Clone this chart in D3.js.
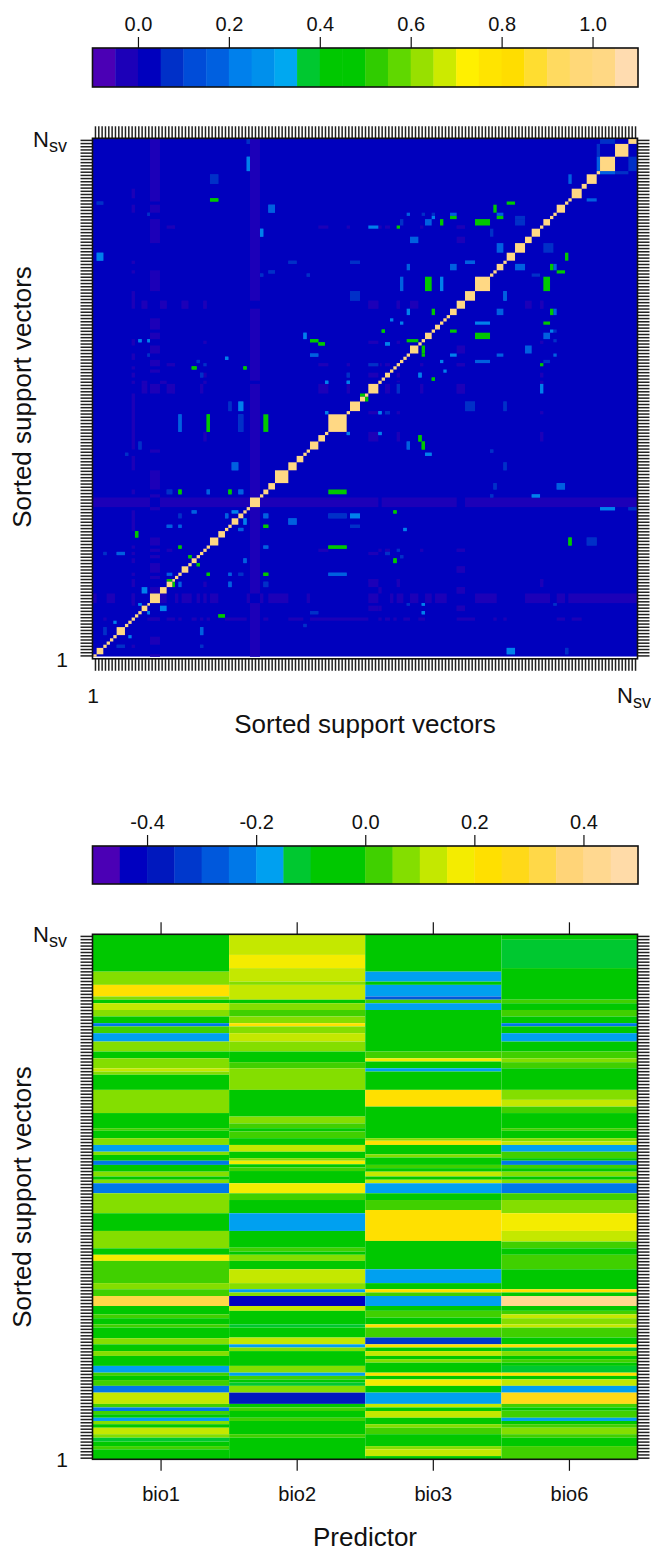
<!DOCTYPE html>
<html><head><meta charset="utf-8">
<style>html,body{margin:0;padding:0;background:#fff}svg{display:block}text{font-family:"Liberation Sans",Arial,sans-serif;fill:#111}</style>
<script src="https://cdn.jsdelivr.net/npm/d3@7/dist/d3.min.js"></script>
</head><body><script>
// ---------- data ----------
const nSV = 163;
const predictors = ["bio1","bio2","bio3","bio6"];
const simTicks = [0,0.2,0.4,0.6,0.8,1.0];
const coefTicks = [-0.4,-0.2,0,0.2,0.4];
const simColors = ["#4B00B5","#1C00B8","#0000BE","#0030C8","#004CD8","#0060E0","#0080EC","#0090EC","#00A8F0","#00C830","#00C800","#00C800","#30CC00","#60D800","#98E000","#CCEA00","#FFF000","#FFE400","#FFDD00","#FFDD30","#FFDA60","#FFD878","#FFD884","#FFDCB0"];
const coefColors = ["#4B00B5","#0000C0","#0018BE","#0038CC","#0058DC","#0078E8","#00A0F0","#00C830","#00C800","#00C800","#40D000","#84DE00","#C4E800","#F4EC00","#FFE000","#FFD918","#FFD848","#FFD478","#FFD890","#FFDBA8"];
// tied groups of support vectors along the sorted order (upper edges of each group)
const groupEdges = [0,1,3,4,5,6,7,9.5,10.5,11.5,12.5,13.5,14.5,16.2,17,20,22,23.7,24.5,25.5,26.5,28.5,29.5,31,32,33,34,35,37.5,39.5,40.5,41.5,43.5,45,46,47,50,51,52.5,54.5,58.5,61,63,64,65,67.5,69.5,70.5,76,77,80,81.5,82.5,85.5,86.5,87.5,89,90,91,92,93,94,95,97.5,98.5,99.5,101.5,102.5,104,105,106,107,109,111.5,114.5,119,120,121,123,124,126.5,129.5,131.5,134,135,137,138,139,141.5,142.5,143.5,146.5,148,151,152,156.5,160.5,163];
const baseSim = 0.02, selfSim = 1.02, lowSim = -0.03;
// [position a, position b, similarity]  (the matrix is symmetric)
const pairSims = [
[46.5,161.1,.07],[46.5,154,.17],[36,149,.07],[36,142.8,.42],[2,141.7,.07],[53.5,140.2,.17],[16.5,138.6,.07],[50.5,132.5,.17],[2,125,.17],[59.8,123.5,.07],[78.5,123.5,.07],[53.5,120.4,.07],[50.5,119.3,.07],[64.5,119.3,.07],[78.5,112.7,.07],[63.5,100.6,.17],[66.3,99,.42],[68.5,98,.42],[14,99,.22],[16.5,99,.22],[16.5,94.9,.07],[66.3,94.9,.17],[40,93.5,.22],[31.5,92,.07],[33.5,91.2,.07],[30.3,90.1,.42],[45.5,90.1,.42],[32.5,88,.07],[76.5,88,.07],[70,86,.22],[76.5,86,.22],[80.8,81.9,.42],
[41,79,.07],[44.5,79,.17],[44.5,73.4,.12],[26,73.4,.17],[34.5,73.4,.42],[52,73.4,.42],[70,76.5,.17],[76.5,69.8,.22],[14,66.2,.07],[10,63.8,.07],[42.5,60,.17],
[22.8,51.7,.07],[26,51.7,.42],[34.5,51.7,.17],[41,51.7,.42],[44.5,51.7,.17],[30.3,45.5,.17],[26,44.4,.07],[40,44.4,.22],[42.5,45.5,.17],[22.8,41.3,.17],[26,41.3,.17],[13,38.7,.42],[26,34.8,.42],[8.3,32.4,.17],[3.5,32.4,.07],[29,31.4,.42],[31.5,29,.42],[22.8,26.2,.17],[22.8,24,.42],[15.3,21,.22],[14,16.6,.22],[16.5,14,.22],[6.5,11,.22],[32.5,8.5,.17],[3.5,8.5,.07],[8,3.8,.07],[32.5,3.8,.07],[38.5,13,.42],[66.3,14,.07],[63.5,10,.07],[45.5,30.4,.17],[44.5,26.2,.07],[41,26.2,.17],[34.5,26.2,.42],[52,26.2,.42],[73,26.2,.17],[41,23,.17],[52,23,.07],[52,44.4,.17],[52,41.3,.42],[59.8,42.5,.2],[73,44.4,.07],[78.5,44.4,.22],[78.5,41.3,.07],[45.5,42.5,.22],[44.5,40,.17],[52,34.8,.17],[73,34.8,.42],
[143,149.5,.17],[154.3,161.5,.07],[151.5,158.4,.07],[151.5,154,.17],[125.3,141.7,.42],[120.5,140.2,.42],[94.5,138.6,.17],[99,138.6,.07],[102,138.6,.07],[108,138.6,.17],[122,138.6,.17],[102,137.5,.22],[108,137.5,.42],[122,137.5,.42],[128,137.5,.07],[92.5,136,.07],[100.5,136,.17],[104.5,136,.42],[116.8,136,.42],[84,134.5,.22],[91.5,134.5,.42],[119.5,132.5,.07],[96,130.3,.17],[122,127.7,.17],[127.7,136,.07],[113,123.5,.22],[94.5,122,.17],[108,122,.17],[92.5,116.8,.17],[100.5,116.8,.42],[104.5,116.8,.22],[123.5,112.7,.17],[94.5,107.9,.22],[102,107.9,.42],[89.5,105.3,.22],[92.5,104.5,.22],[87,102.4,.42],[94.5,99,.42],[88.2,98,.22],[99,95,.42],[98,88,.22],[102,87,.42],[91.5,84,.07],[113,79,.07],[123.5,79,.07],[86,76.6,.22],[88.3,76.6,.07],[86,69.8,.22],[94.5,66.2,.17],[98,68.3,.42],[99,66.2,.42],[100.5,63.7,.22],[119.5,64.6,.07],[123.5,60,.07],[120.5,53.2,.07],[140.3,53.2,.17],[119.5,50.7,.07],[132.8,50.7,.22],[154.3,46.5,.22],[161.8,46.5,.07],[90.5,45.5,.42],[93.5,40.3,.22],[143,36.6,.42],[149.5,36.6,.07],[88.3,32.4,.07],[92.5,31.4,.07],[90.5,30.4,.42],[94.5,16.8,.07],[99,16.8,.22],[99,14.2,.22],[138,16.8,.07],[125.3,2.2,.22],[142,2.2,.07]
];
// [row position, [from,to] runs of slightly negative similarity]
const lowRuns = [
[48.5,[[0,17],[20,47],[50,85.5],[86.5,109],[111.5,163]]],
[18.5,[[0,1],[4,6.5],[11.5,12.5],[20,22],[24.5,25.5],[26.5,29.5],[31,32],[33,34],[35,37.5],[46,47],[50,51],[52.5,58.5],[64,65],[82.5,85.5],[89,90],[91,93],[95,97.5],[99.5,101.5],[102.5,106],[114.5,121],[129.5,137],[139,141.5],[142.5,163]]],
[12,[[3,4],[16.2,20],[22,24.5],[25.5,26.5],[29.5,31],[32,33],[34,35],[39.5,46],[51,52.5],[58.5,63],[65,82.5],[85.5,86.5],[87.5,89],[90,91],[93,95],[97.5,99.5],[109,114.5],[120,121],[123,124],[139,141.5],[143.5,146.5]]],
[134.5,[[22,24.5],[67.5,70.5],[76,77],[85.5,86.5],[87.5,89],[98,99],[109,111.5]]],
[110,[[14.5,16.2],[20,22],[26.5,28.5],[33,34],[82.5,85.5],[91,92],[95,97.5],[129.5,131.5],[134,135]]],
[91.2,[[22,24.5],[67.5,70.5],[76,77],[82.5,85.5],[86,86.5],[87.5,89],[98,99],[109,111.5]]],
[84,[[14.5,16.2],[22,24.5],[32,33],[67.5,70.5],[76,77],[87.5,89],[98,99],[109,111.5]]],
[33.5,[[22,23.7],[67.5,70.5],[85.5,86.5],[87.5,89],[98,99],[109,111.5]]],
[23.7,[[82.5,85.5],[91,92],[134,135]]],
[21.6,[[85.5,86.5],[109,111.5]]],
[15.6,[[85.5,86.5],[109,111.5]]],
[27.7,[[109,111.5]]]
];
// coefficient bands per predictor: upper rank of each band, and its value
const bio1Tops = [163,151.4,147.3,143.7,142.7,141.6,139.5,137.5,135.4,134.4,132.3,129.7,126.6,124.5,121.4,120.4,119.4,114.7,107.5,102.8,102,99.7,97.6,95.5,94.5,92.7,91.4,89.3,87.8,86.8,85.7,82.6,76.4,70.9,65.5,63.5,61.6,54.7,52.8,50.7,47.6,45,43.8,41.9,40.9,37.6,35.7,33.6,32.1,29,26.9,25.9,24.6,22.8,20.7,17.2,16.1,15,14,12.9,11.9,10.9,9.8,7.8,6.7,5.5,4.1,3.1];
const bio1Vals = [-.03,.07,.22,.07,-.03,.12,.07,-.03,-.22,.02,-.17,.07,-.03,.07,.12,.07,-.03,.07,-.03,.02,-.03,.07,-.17,.07,-.03,-.22,-.03,.07,-.03,.07,-.22,.07,-.03,.07,-.03,.17,.02,.07,.02,.32,-.03,.02,-.03,.02,-.03,.07,-.03,.07,-.03,-.17,.02,-.03,.02,-.22,.12,.02,-.22,.02,-.03,-.17,.07,-.03,.12,.07,-.12,-.03,.02,-.03];
const bio2Tops = [163,156.6,152.5,148.3,147.3,142.7,141.6,139.5,137.5,135.4,134.4,132.3,129.7,126.6,123.3,121.4,114.7,106.4,104.3,102.8,101.8,99.7,97.6,95.5,93.5,92.7,91.6,90.6,89.5,85.7,82.6,80.5,76.4,70.9,65.7,64.5,63.5,61.6,59,54.7,52.8,51.8,50.7,47.6,46.1,41.9,40.9,37.8,35.7,34.7,33.6,29,26.9,25.9,24.8,23.8,22.8,20.7,17.2,16.1,15,12.9,11.9,7.8,6.7];
const bio2Vals = [.12,.17,.12,.07,.12,-.03,.07,.02,.07,.22,.07,.12,.07,-.03,.02,.07,-.03,.07,.02,-.03,.02,-.03,.12,-.03,.07,.17,-.03,.02,-.03,.17,.02,-.03,-.17,-.03,.02,-.03,.07,-.03,.12,.07,-.17,.07,-.42,.12,-.03,-.12,-.03,.12,-.17,.07,-.03,.07,-.17,.02,-.03,-.12,.07,-.37,-.03,.02,-.03,.02,-.03,.02,-.03];
const bio3Tops = [163,151.4,148.3,147.3,143.7,142.7,141.6,139.5,126.6,124.5,123.5,121.4,120.4,114.7,109.5,99.7,98.9,97.6,94.7,93.7,91.4,90.4,89.3,87.8,86.8,85.7,82.6,80.5,77.4,67.8,59,54.7,52.8,51.8,50.7,47.6,46.1,44,41.9,40.9,37.8,35.7,34.7,33.6,32.1,31.1,30,26.9,25.9,24.8,22.8,20.7,17.2,16.1,15,12.9,10.9,9.8,7.8,4.1,3.1,1];
const bio3Vals = [-.03,-.17,-.03,-.17,-.27,.02,-.17,-.03,.02,.17,-.03,-.17,-.03,.22,-.03,.07,.22,-.03,.07,-.03,.02,-.03,.12,-.03,.12,-.17,-.03,.02,.22,-.03,-.17,-.03,.22,.02,-.17,-.03,.02,-.03,.22,.02,-.32,.22,-.03,.12,-.03,.07,-.03,.22,-.03,.17,-.03,-.17,.12,-.03,.12,-.03,.07,.02,-.03,.07,.12,-.03];
const bio6Tops = [163,161.3,152.5,142.7,141.6,139.5,137.5,135.4,134.4,132.3,129.7,126.6,124.5,123.3,121.4,114.7,111.6,109.5,107.5,102.8,102,99.7,98.7,97.6,95.5,93.5,92.7,91.4,90.4,89.3,87.8,86.8,85.7,82.6,80.5,76.4,70.9,67.6,65.5,63.5,59,52.8,51.8,50.7,47.6,46.1,45,43.8,41.9,40.9,37.8,35.7,34.7,33.6,32.1,31.1,30,29,26.9,25.9,24.8,22.8,20.7,17.2,16.1,15.1,12.9,11.9,10.9,9.8,7.8,6.7,4.1];
const bio6Vals = [-.03,-.12,-.03,.02,-.03,.02,-.03,-.22,-.03,-.17,-.03,.02,.07,.02,-.03,.07,.12,.02,-.03,.02,-.03,.07,.12,-.17,.02,-.03,-.22,.02,-.03,.07,-.03,.07,-.22,.02,.07,.17,.12,.02,-.03,.02,-.03,.22,-.03,.42,-.03,.02,.12,.07,.12,.02,-.03,.22,-.12,.07,-.03,.02,-.03,-.12,.22,-.03,.12,-.17,.27,.02,-.03,.02,-.17,-.03,.02,.07,.02,-.03,.02];

// ---------- layout ----------
const W = 651, H = 1553;
const svg = d3.select("body").append("svg").attr("width",W).attr("height",H);
const frameW = 1.6;
const left = 92.5, right = 637.5;

const simColor = d3.scaleQuantize().domain([-0.1,1.1]).range(simColors);
const coefColor = d3.scaleQuantize().domain([-0.5,0.5]).range(coefColors);

function frame(g,x0,y0,x1,y1){
  g.append("rect").attr("x",x0).attr("y",y0).attr("width",x1-x0).attr("height",y1-y0)
    .attr("fill","none").attr("stroke","#111").attr("stroke-width",frameW);
}
function legend(extent,ticks,color,y0,y1,fmt){
  const g = svg.append("g");
  const s = d3.scaleLinear().domain(extent).range([left,right+0.5]);
  const th = [extent[0],...color.thresholds(),extent[1]];
  g.selectAll("rect.c").data(d3.pairs(th)).join("rect").attr("class","c")
    .attr("x",d=>s(d[0])).attr("width",d=>s(d[1])-s(d[0])+0.4)
    .attr("y",y0).attr("height",y1-y0)
    .attr("fill",(d,i)=>color.range()[i]);
  const ax = d3.axisTop(s).tickValues(ticks).tickSize(11).tickPadding(6).tickFormat(fmt);
  const a = g.append("g").attr("transform",`translate(0,${y0})`).call(ax);
  a.select(".domain").remove();
  a.selectAll("line").attr("stroke","#111").attr("stroke-width",1.2);
  a.selectAll("text").attr("font-size",20).style("font-family",'"Liberation Sans",Arial,sans-serif').attr("fill","#111");
  frame(g,left,y0,right+0.5,y1);
}
const f1 = d=>d.toFixed(1);
legend([-0.1,1.1],simTicks,simColor,48,87,f1);
legend([-0.5,0.5],coefTicks,coefColor,846,884,f1);

function denseTicks(g,xs,ys,x0,y0,x1,y1,len){
  const idx = d3.range(1,nSV+1).map(i=>i-0.5);
  const style = s=>{s.select(".domain").remove();s.selectAll("line").attr("stroke","#222").attr("stroke-width",1.5);s.selectAll("text").remove();};
  if(xs){
    g.append("g").attr("transform",`translate(0,${y0})`).call(d3.axisTop(xs).tickValues(idx).tickSize(len).tickFormat("")).call(style);
    g.append("g").attr("transform",`translate(0,${y1})`).call(d3.axisBottom(xs).tickValues(idx).tickSize(len).tickFormat("")).call(style);
  }
  g.append("g").attr("transform",`translate(${x0},0)`).call(d3.axisLeft(ys).tickValues(idx).tickSize(len).tickFormat("")).call(style);
  g.append("g").attr("transform",`translate(${x1},0)`).call(d3.axisRight(ys).tickValues(idx).tickSize(len).tickFormat("")).call(style);
}
function nsv(g,x,y,anchor){
  const t = g.append("text").attr("x",x).attr("y",y).attr("text-anchor",anchor).attr("font-size",22).text("N");
  t.append("tspan").attr("font-size",18).attr("dy",5).text("sv");
}

// ---------- similarity matrix ----------
const top1 = 138.3, bot1 = 656.7, frameBot1 = 658.8;
const xSim = d3.scaleLinear().domain([0,nSV]).range([93.3,636.7]);
const ySim = d3.scaleLinear().domain([0,162.25]).range([657.5,138.3]);
const g1 = svg.append("g");
svg.append("defs").append("clipPath").attr("id","c1").append("rect").attr("x",left).attr("y",top1).attr("width",right-left).attr("height",bot1-top1);
const cells = g1.append("g").attr("clip-path","url(#c1)");
function groupOf(p){
  const i = Math.min(d3.bisectRight(groupEdges,p),groupEdges.length-1);
  return [groupEdges[i-1],groupEdges[i]];
}
cells.append("rect").attr("x",left).attr("y",top1).attr("width",right-left).attr("height",bot1-top1).attr("fill",simColor(baseSim));
const lowCells = lowRuns.flatMap(([row,runs])=>{const r=groupOf(row);return runs.flatMap(u=>[{a:u,b:r},{a:r,b:u}]);});
const pairCells = pairSims.flatMap(([a,b,v])=>{const A=groupOf(a),B=groupOf(b);return [{a:A,b:B,v},{a:B,b:A,v}];});
const diagCells = d3.pairs(groupEdges).map(e=>({a:e,b:e,v:selfSim}));
const drawCells = (data,val)=>cells.append("g").selectAll("rect").data(data).join("rect")
  .attr("x",d=>xSim(d.a[0])).attr("width",d=>xSim(d.a[1])-xSim(d.a[0]))
  .attr("y",d=>ySim(d.b[1])).attr("height",d=>ySim(d.b[0])-ySim(d.b[1]))
  .attr("fill",d=>simColor(val!==undefined?val:d.v));
drawCells(lowCells,lowSim);
drawCells(pairCells);
drawCells(diagCells);
const ySimT = d3.scaleLinear().domain([0,nSV]).range([657,138.3]);
denseTicks(g1,xSim,ySimT,left,top1,right,frameBot1,12);
frame(g1,left,top1,right,frameBot1);
nsv(g1,33,147,"start");
g1.append("text").attr("x",62).attr("y",667).attr("font-size",21).attr("text-anchor","middle").text("1");
g1.append("text").attr("x",93).attr("y",703).attr("font-size",21).attr("text-anchor","middle").text("1");
nsv(g1,651,703,"end");
g1.append("text").attr("x",365).attr("y",733).attr("font-size",26).attr("text-anchor","middle").text("Sorted support vectors");
g1.append("text").attr("transform","translate(31,397) rotate(-90)").attr("font-size",26).attr("text-anchor","middle").text("Sorted support vectors");

// ---------- coefficient strips ----------
const top2 = 934.3, bot2 = 1459.3;
const xCoef = d3.scaleBand().domain(predictors).range([93,637.5]);
const yCoef = d3.scaleLinear().domain([0,nSV]).range([bot2,top2]);
const g2 = svg.append("g");
const bands = [[bio1Tops,bio1Vals],[bio2Tops,bio2Vals],[bio3Tops,bio3Vals],[bio6Tops,bio6Vals]];
predictors.forEach((p,k)=>{
  const [tops,vals] = bands[k];
  g2.append("g").selectAll("rect").data(tops).join("rect")
    .attr("x",xCoef(p)).attr("width",xCoef.bandwidth())
    .attr("y",d=>yCoef(d))
    .attr("height",(d,i)=>yCoef(i+1<tops.length?tops[i+1]:0)-yCoef(d))
    .attr("fill",(d,i)=>coefColor(vals[i]));
});
denseTicks(g2,null,yCoef,left,top2,right,bot2,12);
const at = g2.append("g").attr("transform",`translate(0,${top2})`).call(d3.axisTop(xCoef).tickSize(12).tickFormat(""));
at.select(".domain").remove(); at.selectAll("line").attr("stroke","#111").attr("stroke-width",1.2);
const ab = g2.append("g").attr("transform",`translate(0,${bot2+0.5})`).call(d3.axisBottom(xCoef).tickSize(11).tickPadding(16));
ab.select(".domain").remove(); ab.selectAll("line").attr("stroke","#111").attr("stroke-width",1.2);
ab.selectAll("text").attr("font-size",20).style("font-family",'"Liberation Sans",Arial,sans-serif').attr("fill","#111");
frame(g2,left,top2,right,bot2);
nsv(g2,33,942,"start");
g2.append("text").attr("x",62).attr("y",1467).attr("font-size",21).attr("text-anchor","middle").text("1");
g2.append("text").attr("x",365).attr("y",1546).attr("font-size",26).attr("text-anchor","middle").text("Predictor");
g2.append("text").attr("transform","translate(31,1197) rotate(-90)").attr("font-size",26).attr("text-anchor","middle").text("Sorted support vectors");
</script></body></html>
